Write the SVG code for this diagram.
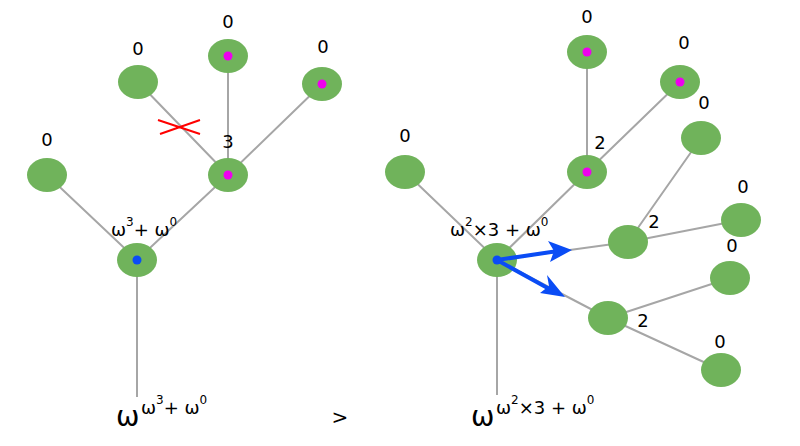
<svg xmlns="http://www.w3.org/2000/svg" width="800" height="446" viewBox="0 0 800 446">
<style>
.n{fill:#70b35b}.e{stroke:#a6a6a6;stroke-width:2;fill:none}
text{font-family:"DejaVu Sans",sans-serif;font-size:18px;fill:#000;text-anchor:middle}
.s{font-size:12px}.m{fill:#ee00ee}.b{fill:#0a4cf5}
</style>
<g id="edges" class="e">
<path d="M137,260V397M137,260L47,175M137,260L228,175M228,175L138,82M228,175V56M228,175L322,84"/>
<path d="M497,260V395M497,260L405,172M497,260L587,172M587,172V52M587,172L680,82M497,260L628,242M628,242L701,138M628,242L741,220M497,260L608,318M608,318L730,278M608,318L721,370"/>
</g>
<g id="cross" stroke="#f00" stroke-width="2"><path d="M158,120L200,134M160,134L200,120"/></g>
<g id="L0"><ellipse class="n" cx="137" cy="260" rx="20" ry="17"/><circle class="b" cx="137" cy="260" r="4.5"/></g>
<g id="L1"><ellipse class="n" cx="47" cy="175" rx="20" ry="17"/><text x="47" y="146">0</text></g>
<g id="L2"><ellipse class="n" cx="228" cy="175" rx="20" ry="17"/><circle class="m" cx="228" cy="175" r="4.5"/><text x="228" y="148">3</text></g>
<g id="L3"><ellipse class="n" cx="138" cy="82" rx="20" ry="17"/><text x="138" y="55">0</text></g>
<g id="L4"><ellipse class="n" cx="228" cy="56" rx="20" ry="17"/><circle class="m" cx="228" cy="56" r="4.5"/><text x="228" y="28">0</text></g>
<g id="L5"><ellipse class="n" cx="322" cy="84" rx="20" ry="17"/><circle class="m" cx="322" cy="84" r="4.5"/><text x="323" y="53">0</text></g>
<g id="R0"><ellipse class="n" cx="497" cy="260" rx="20" ry="17"/><circle class="b" cx="497" cy="260" r="4.5"/></g>
<g id="R1"><ellipse class="n" cx="405" cy="172" rx="20" ry="17"/><text x="405" y="142">0</text></g>
<g id="R2"><ellipse class="n" cx="587" cy="172" rx="20" ry="17"/><circle class="m" cx="587" cy="172" r="4.5"/><text x="600" y="149">2</text></g>
<g id="R3"><ellipse class="n" cx="587" cy="52" rx="20" ry="17"/><circle class="m" cx="587" cy="52" r="4.5"/><text x="587" y="23">0</text></g>
<g id="R4"><ellipse class="n" cx="680" cy="82" rx="20" ry="17"/><circle class="m" cx="680" cy="82" r="4.5"/><text x="684" y="49">0</text></g>
<g id="R5"><ellipse class="n" cx="628" cy="242" rx="20" ry="17"/><text x="654" y="228">2</text></g>
<g id="R6"><ellipse class="n" cx="701" cy="138" rx="20" ry="17"/><text x="704" y="109">0</text></g>
<g id="R7"><ellipse class="n" cx="741" cy="220" rx="20" ry="17"/><text x="743" y="193">0</text></g>
<g id="R8"><ellipse class="n" cx="608" cy="318" rx="20" ry="17"/><text x="643" y="327">2</text></g>
<g id="R9"><ellipse class="n" cx="730" cy="278" rx="20" ry="17"/><text x="732" y="252">0</text></g>
<g id="R10"><ellipse class="n" cx="721" cy="370" rx="20" ry="17"/><text x="720" y="348">0</text></g>
<g id="arrows" stroke="#0a4cf5" stroke-width="4" fill="none" stroke-linecap="round">
<path d="M497,260L558,251M497,260L553,291"/>
</g>
<g fill="#0a4cf5">
<path d="M572,250L548,241L554,251L550,262z"/>
<path d="M565,297L540,293L549,286L547,275z"/>
</g>
<text x="111" y="236" style="text-anchor:start">ω<tspan class="s" dy="-10">3</tspan><tspan dy="10">+ ω</tspan><tspan class="s" dy="-10">0</tspan></text>
<text x="450" y="236" style="text-anchor:start">ω<tspan class="s" dy="-10">2</tspan><tspan dy="10">×3 + ω</tspan><tspan class="s" dy="-10">0</tspan></text>
<text x="116" y="426" style="text-anchor:start;font-size:28px">ω<tspan x="141" dy="-12" style="font-size:18px">ω</tspan><tspan class="s" dy="-10">3</tspan><tspan dy="10" style="font-size:18px">+ ω</tspan><tspan class="s" dy="-10">0</tspan></text>
<text x="340" y="424" style="font-size:20px">&gt;</text>
<text x="471" y="426" style="text-anchor:start;font-size:28px">ω<tspan x="496" dy="-12" style="font-size:18px">ω</tspan><tspan class="s" dy="-10">2</tspan><tspan dy="10" style="font-size:18px">×3 + ω</tspan><tspan class="s" dy="-10">0</tspan></text>
</svg>
